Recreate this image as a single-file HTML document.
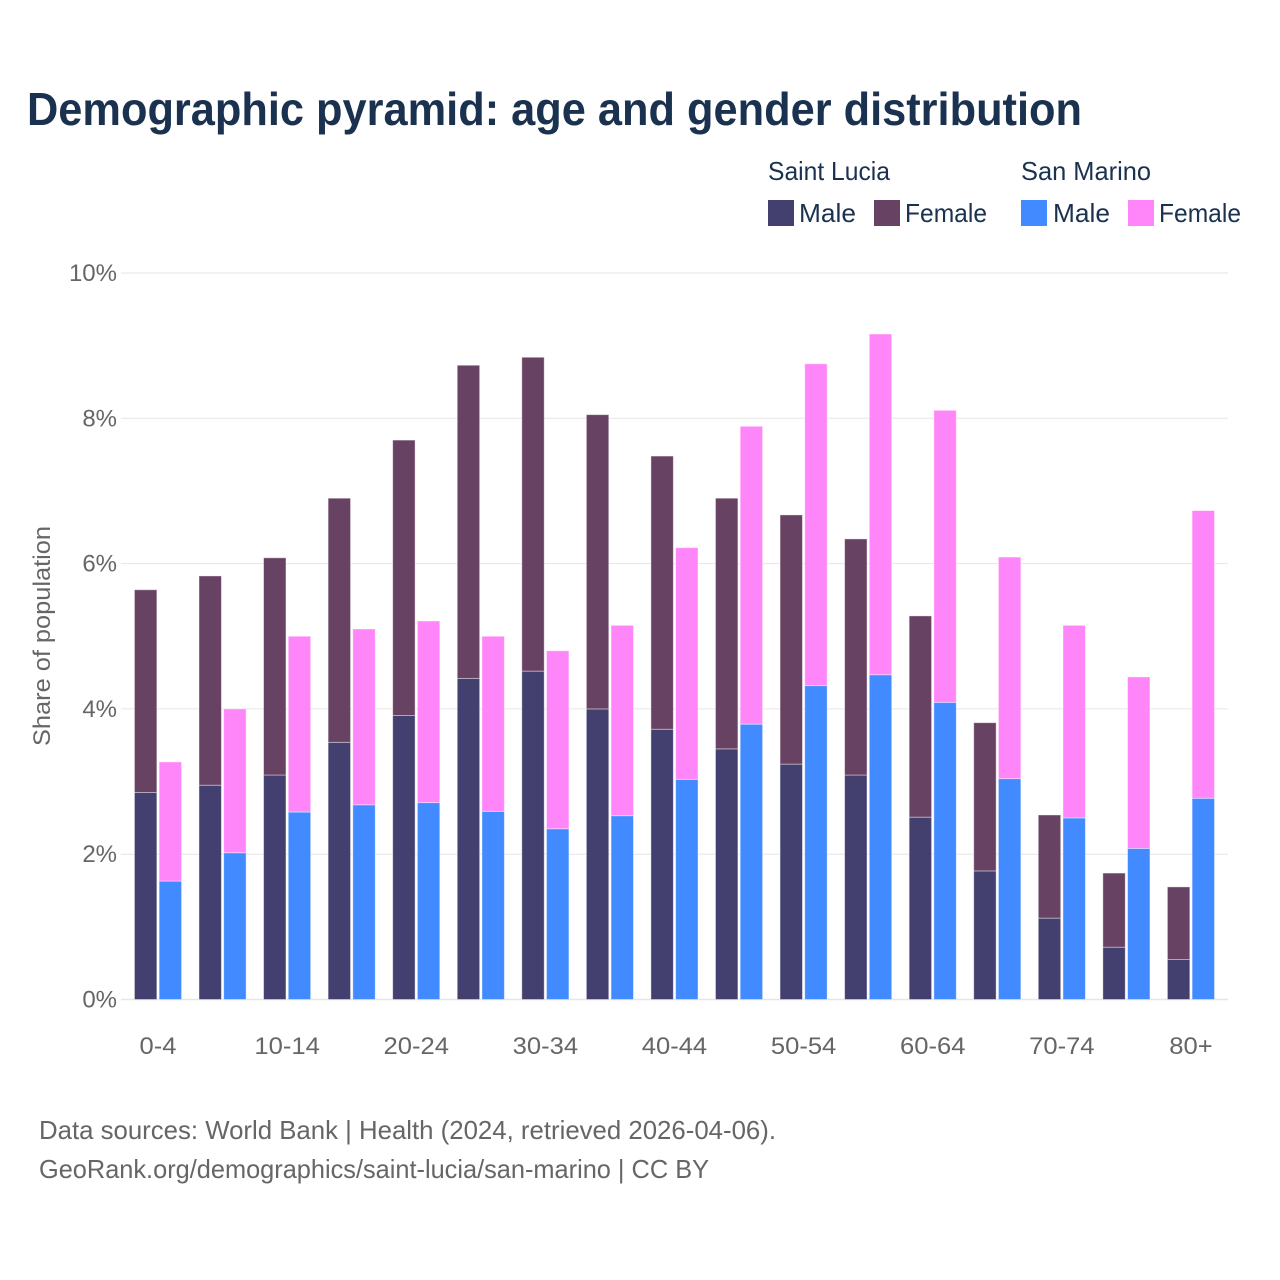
<!DOCTYPE html>
<html lang="en">
<head>
<meta charset="utf-8">
<title>Demographic pyramid</title>
<style>
html,body{margin:0;padding:0;background:#fff}
svg{display:block}
text{font-family:"Liberation Sans",sans-serif}
</style>
</head>
<body>
<svg id="chart" xmlns="http://www.w3.org/2000/svg" width="1280" height="1280" viewBox="0 0 1280 1280">
  <rect x="0" y="0" width="1280" height="1280" fill="#ffffff"/>
  <text x="27" y="125" font-size="46" font-weight="bold" fill="#1a3150" textLength="1055" lengthAdjust="spacingAndGlyphs">Demographic pyramid: age and gender distribution</text>

  <g font-size="26" fill="#1a3150">
    <text x="768" y="180" textLength="122" lengthAdjust="spacingAndGlyphs">Saint Lucia</text>
    <text x="1021" y="180" textLength="130" lengthAdjust="spacingAndGlyphs">San Marino</text>
    <rect x="768" y="200" width="26" height="26" fill="#434070"/>
    <text x="799" y="222" textLength="57" lengthAdjust="spacingAndGlyphs">Male</text>
    <rect x="874" y="200" width="26" height="26" fill="#684263"/>
    <text x="905" y="222" textLength="82" lengthAdjust="spacingAndGlyphs">Female</text>
    <rect x="1021" y="200" width="26" height="26" fill="#418aff"/>
    <text x="1053" y="222" textLength="57" lengthAdjust="spacingAndGlyphs">Male</text>
    <rect x="1128" y="200" width="26" height="26" fill="#ff86f8"/>
    <text x="1159" y="222" textLength="82" lengthAdjust="spacingAndGlyphs">Female</text>
  </g>

  <g id="grid"></g>
  <g id="yticks"></g>
  <g id="bars"></g>
  <g id="xticks"></g>

  <text transform="translate(50,636) rotate(-90)" text-anchor="middle" font-size="24" fill="#666666" textLength="220" lengthAdjust="spacingAndGlyphs">Share of population</text>

  <text x="39" y="1139" font-size="26" fill="#666666" textLength="737" lengthAdjust="spacingAndGlyphs">Data sources: World Bank | Health (2024, retrieved 2026-04-06).</text>
  <text x="39" y="1178" font-size="26" fill="#666666" textLength="670" lengthAdjust="spacingAndGlyphs">GeoRank.org/demographics/saint-lucia/san-marino | CC BY</text>
</svg>
<script>
const categories = ['0-4','5-9','10-14','15-19','20-24','25-29','30-34','35-39','40-44','45-49','50-54','55-59','60-64','65-69','70-74','75-79','80+'];
const saintLuciaMale = [2.85,2.95,3.09,3.54,3.91,4.42,4.52,4.00,3.72,3.45,3.24,3.09,2.51,1.77,1.12,0.72,0.55];
const saintLuciaFemale = [2.79,2.88,2.99,3.36,3.79,4.31,4.32,4.05,3.76,3.45,3.43,3.25,2.77,2.04,1.42,1.02,1.00];
const sanMarinoMale = [1.63,2.02,2.58,2.68,2.71,2.59,2.35,2.53,3.03,3.79,4.32,4.47,4.09,3.04,2.50,2.08,2.77];
const sanMarinoFemale = [1.64,1.98,2.42,2.42,2.50,2.41,2.45,2.62,3.19,4.10,4.43,4.69,4.02,3.05,2.65,2.36,3.96];
const yTickValues = [0,2,4,6,8,10];
const yTickLabels = ['0%','2%','4%','6%','8%','10%'];
const xTickLabels = ['0-4','10-14','20-24','30-34','40-44','50-54','60-64','70-74','80+'];

const NS = 'http://www.w3.org/2000/svg';
const plotLeft = 121, plotRight = 1228;
const y0 = 999.5, pxPerUnit = 72.65;
const firstCenter = 158, band = 64.56;
const barW = 22.4, barGap = 2.3;
const yScale = v => y0 - v * pxPerUnit;
const xScale = i => firstCenter + band * i;

function make(tag, attrs, parent) {
  const el = document.createElementNS(NS, tag);
  for (const k in attrs) el.setAttribute(k, attrs[k]);
  parent.appendChild(el);
  return el;
}

const gridG = document.getElementById('grid');
const yG = document.getElementById('yticks');
yTickValues.forEach((v, i) => {
  const line = make('line', {x1: plotLeft, x2: plotRight, y1: yScale(v), y2: yScale(v), stroke: '#e6e6e6', 'stroke-width': v === 0 ? 1.5 : 1}, gridG);
  
  
  const t = make('text', {x: 117, y: yScale(v) + 8, 'text-anchor': 'end', 'font-size': 24, fill: '#666666'}, yG);
  
  
  t.textContent = yTickLabels[i];
});

function drawBar(parent, x, base, value, fill, name) {
  const top = yScale(base + value), bottom = yScale(base);
  const r = make('rect', {x: x, y: top, width: barW, height: bottom - top, fill: fill, stroke: '#ffffff', 'stroke-opacity': 0.45, 'stroke-width': 0.9}, parent);
  
  
}

const barsG = document.getElementById('bars');
categories.forEach((c, i) => {
  const cx = xScale(i);
  const leftX = cx - barGap / 2 - barW;
  const rightX = cx + barGap / 2;
  drawBar(barsG, leftX, 0, saintLuciaMale[i], '#434070', 'bar-saint-lucia-male');
  drawBar(barsG, leftX, saintLuciaMale[i], saintLuciaFemale[i], '#684263', 'bar-saint-lucia-female');
  drawBar(barsG, rightX, 0, sanMarinoMale[i], '#418aff', 'bar-san-marino-male');
  drawBar(barsG, rightX, sanMarinoMale[i], sanMarinoFemale[i], '#ff86f8', 'bar-san-marino-female');
});

const xG = document.getElementById('xticks');
categories.forEach((c, i) => {
  if (!xTickLabels.includes(c)) return;
  const t = make('text', {x: xScale(i), y: 1054, 'text-anchor': 'middle', 'font-size': 24, fill: '#666666', lengthAdjust: 'spacingAndGlyphs'}, xG);
  
  
  t.textContent = c;
  t.setAttribute('textLength', (t.getComputedTextLength() * 1.065).toFixed(1));
});
</script>
</body>
</html>
